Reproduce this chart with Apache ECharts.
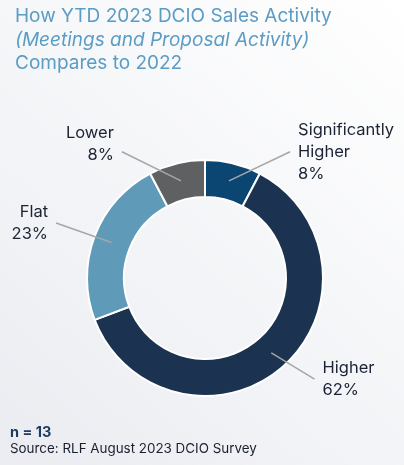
<!DOCTYPE html>
<html>
<head>
<meta charset="utf-8">
<script src="https://cdn.jsdelivr.net/npm/echarts@6/dist/echarts.min.js"></script>
<style>
  html, body { margin: 0; padding: 0; }
  #chart { width: 404px; height: 465px; }
</style>
</head>
<body>
<div id="chart"></div>
<script>
// survey answers, n = 13 respondents
const categories = ['Significantly\nHigher', 'Higher', 'Flat', 'Lower'];
const counts = [1, 8, 3, 1];
const pctLabels = ['8%', '62%', '23%', '8%'];
const colors = ['#0b4673', '#1b3350', '#5f9ab8', '#5f6062'];

const FONT = 'Inter, "Noto Sans", sans-serif';
const CX = 205, CY = 278;

// how far out each label sits: [length, length2], plus a small nudge of the text
const lineLens = [[30, 54], [35, 20], [55, 4], [30, 52]];
const labelNudge = [0, 0, 0, -8];

const myChart = echarts.init(document.querySelector('#chart'));

const ringData = categories.map((name, i) => ({
  name: name,
  value: counts[i],
  itemStyle: { color: colors[i] }
}));

const labelData = categories.map((name, i) => ({
  name: name,
  value: counts[i],
  label: { formatter: name + '\n' + pctLabels[i] },
  labelLine: { length: lineLens[i][0], length2: lineLens[i][1] }
}));

const option = {
  backgroundColor: {
    type: 'linear', x: 1, y: 0, x2: 0, y2: 1,
    colorStops: [
      { offset: 0, color: '#ffffff' },
      { offset: 1, color: '#eaecf1' }
    ]
  },
  title: [
    {
      left: 10,
      top: 0,
      text: '{a|How YTD 2023 DCIO Sales Activity}\n{b|(Meetings and Proposal Activity)}\n{a|Compares to 2022}',
      textStyle: {
        fontWeight: 'normal',
        rich: {
          a: { fontFamily: FONT, fontSize: 19, fontWeight: 'normal', lineHeight: 23.5, color: '#5b9cc5' },
          b: { fontFamily: FONT, fontSize: 19, fontWeight: 'normal', lineHeight: 23.5, color: '#5b9cc5', fontStyle: 'italic' }
        }
      }
    },
    {
      left: 10,
      top: 424,
      text: 'n = 13',
      textStyle: { fontFamily: FONT, fontSize: 14.5, fontWeight: 'bold', color: '#1d3d63', lineHeight: 17 },
      subtext: 'Source: RLF August 2023 DCIO Survey',
      subtextStyle: { fontFamily: FONT, fontSize: 13.4, color: '#1a2030', lineHeight: 16 },
      itemGap: 0,
      padding: 0
    }
  ],
  series: [
    {
      type: 'pie',
      center: [CX, CY],
      radius: [81, 118],
      startAngle: 90,
      clockwise: true,
      silent: true,
      label: { show: false },
      labelLine: { show: false },
      itemStyle: { borderColor: '#ffffff', borderWidth: 2 },
      data: ringData
    },
    {
      type: 'pie',
      z: 3,
      center: [CX, CY],
      radius: [0, 100],
      startAngle: 90,
      clockwise: true,
      silent: true,
      avoidLabelOverlap: false,
      itemStyle: { color: 'rgba(0,0,0,0)' },
      emphasis: { disabled: true },
      label: {
        show: true,
        position: 'outside',
        fontFamily: FONT,
        fontSize: 16.5,
        lineHeight: 22,
        color: '#1b2233',
        distanceToLabelLine: 8
      },
      labelLine: {
        show: true,
        lineStyle: { color: '#a6a6a6', width: 1.5 }
      },
      // straight line from the ring to the label instead of an elbow
      labelLayout: function(params) {
        const pts = params.labelLinePoints;
        if (!pts) return {};
        return {
          dy: labelNudge[params.dataIndex],
          labelLinePoints: [pts[0], pts[pts.length - 1]]
        };
      },
      data: labelData
    }
  ]
};

myChart.setOption(option);

window.addEventListener('resize', function() {
  myChart.resize();
});
</script>
</body>
</html>
